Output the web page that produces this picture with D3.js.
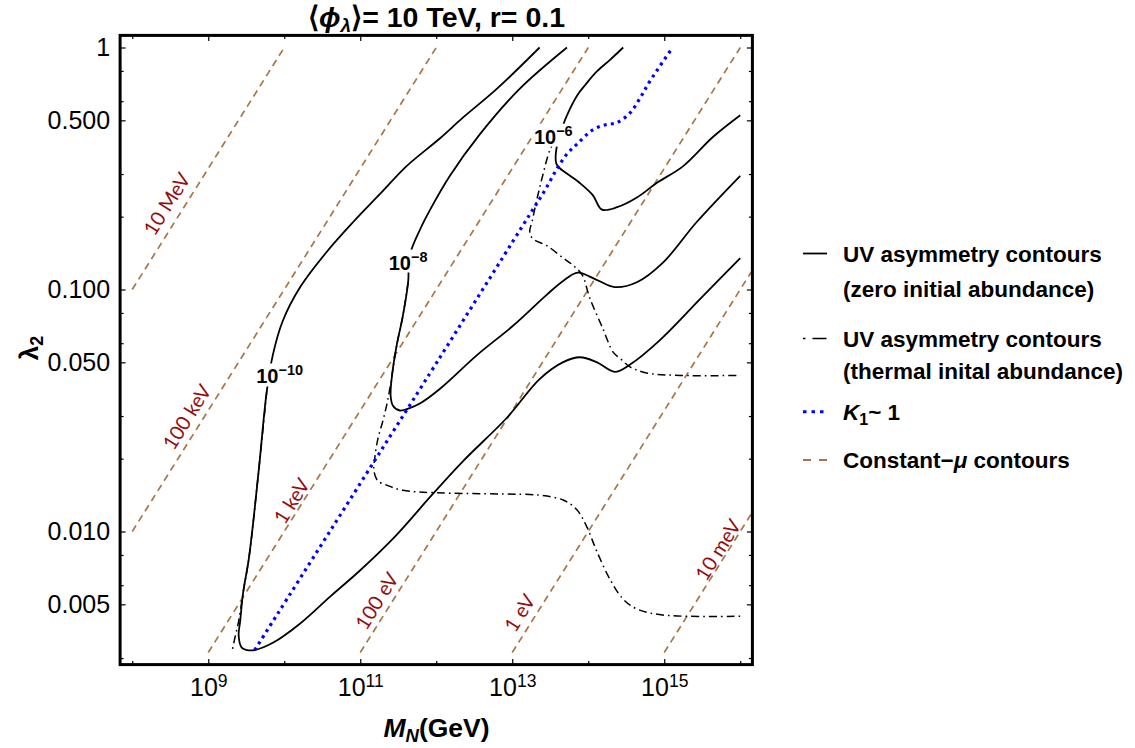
<!DOCTYPE html>
<html><head><meta charset="utf-8">
<script src="https://cdn.jsdelivr.net/npm/d3@7"></script>
<style>
body{margin:0;background:#fff;}
svg{display:block;font-family:"Liberation Sans",Arial,sans-serif;}
</style></head><body>
<svg id="chart" width="1135" height="748"></svg>
<script>
// ---------- data (log10 M_N [GeV], log10 lambda_2) ----------
const xMajorTicks = [1e9, 1e11, 1e13, 1e15];
const xMajorExp = ["9", "11", "13", "15"];
const xMinorTicks = [1e8, 1e10, 1e12, 1e14, 1e16];
const yMajorTicks = [1, 0.5, 0.1, 0.05, 0.01, 0.005];
const yMajorLabels = ["1", "0.500", "0.100", "0.050", "0.010", "0.005"];
const yMinorTicks = [0.8, 0.6, 0.3, 0.2, 0.08, 0.06, 0.03, 0.02, 0.008, 0.006, 0.003];

// UV asymmetry contours, zero initial abundance (solid)
const zero1e10 = [[13.36,0.00],[12.80,-0.17],[12.35,-0.29],[12.05,-0.375],[11.61,-0.49],[11.26,-0.605],[10.91,-0.72],[10.56,-0.844],[10.21,-0.99],[9.98,-1.13],[9.85,-1.27],[9.77,-1.42],[9.66,-1.76],[9.535,-2.11],[9.46,-2.25],[9.42,-2.37],[9.40,-2.43],[9.44,-2.48],[9.51,-2.49],[9.61,-2.49],[9.85,-2.46],[10.21,-2.38],[10.60,-2.27],[11.00,-2.16],[11.46,-2.02],[11.94,-1.85],[12.35,-1.71],[12.93,-1.53],[13.36,-1.37],[13.67,-1.30],[13.89,-1.28],[14.11,-1.30],[14.35,-1.34],[14.55,-1.31],[14.94,-1.21],[15.47,-1.04],[16.00,-0.87]];
const zero1e8 = [[13.72,0.00],[13.10,-0.17],[12.57,-0.36],[12.18,-0.53],[11.92,-0.67],[11.79,-0.75],[11.65,-0.86],[11.63,-0.97],[11.56,-1.11],[11.48,-1.23],[11.42,-1.35],[11.40,-1.44],[11.43,-1.48],[11.52,-1.50],[11.65,-1.49],[11.79,-1.47],[12.05,-1.41],[12.54,-1.27],[13.01,-1.15],[13.46,-1.02],[13.69,-0.96],[13.86,-0.93],[14.11,-0.96],[14.35,-0.99],[14.64,-0.97],[14.98,-0.89],[15.43,-0.72],[16.00,-0.53]];
const zero1e6 = [[14.46,0.00],[14.29,-0.05],[14.11,-0.10],[13.96,-0.155],[13.85,-0.20],[13.72,-0.28],[13.67,-0.32],[13.58,-0.42],[13.58,-0.48],[13.63,-0.50],[13.76,-0.53],[13.89,-0.56],[14.06,-0.61],[14.18,-0.67],[14.38,-0.66],[14.64,-0.62],[14.90,-0.56],[15.25,-0.49],[15.64,-0.37],[16.00,-0.28]];

// UV asymmetry contours, thermal initial abundance (dot-dashed)
const therm1e10 = [[9.77,-1.42],[9.66,-1.76],[9.535,-2.11],[9.46,-2.25],[9.40,-2.37],[9.35,-2.44],[9.31,-2.50]];
const therm1e8 = [[11.63,-0.97],[11.56,-1.11],[11.48,-1.23],[11.42,-1.35],[11.36,-1.46],[11.30,-1.54],[11.23,-1.62],[11.19,-1.70],[11.18,-1.75],[11.23,-1.79],[11.36,-1.81],[11.56,-1.83],[12.01,-1.84],[12.84,-1.845],[13.36,-1.85],[13.67,-1.87],[13.85,-1.91],[13.98,-1.98],[14.11,-2.08],[14.29,-2.20],[14.46,-2.28],[14.64,-2.32],[14.98,-2.345],[16.00,-2.35]];
const therm1e6 = [[13.67,-0.32],[13.50,-0.42],[13.40,-0.53],[13.33,-0.62],[13.26,-0.72],[13.23,-0.76],[13.27,-0.79],[13.46,-0.82],[13.67,-0.87],[13.80,-0.90],[13.92,-0.94],[14.02,-1.035],[14.19,-1.16],[14.33,-1.26],[14.42,-1.285],[14.55,-1.32],[14.77,-1.345],[15.21,-1.355],[16.00,-1.355]];

// K1 ~ 1 (blue dotted)
const k1Line = [[9.61,-2.49],[12.05,-1.28],[13.23,-0.69],[13.43,-0.59],[13.59,-0.50],[13.72,-0.44],[13.85,-0.40],[14.06,-0.34],[14.22,-0.32],[14.38,-0.31],[14.55,-0.27],[14.68,-0.21],[14.81,-0.14],[15.11,0.00]];

// constant-mu contours (brown dashed): endpoints
const muNames = ["10 MeV", "100 keV", "1 keV", "100 eV", "1 eV", "10 meV"];
const muStart = [[8,-1],[8,-2],[9,-2.5],[11,-2.5],[13,-2.5],[15,-2.5]];
const muEnd = [[10,0],[12,0],[14,0],[16,0],[16.16,-0.92],[16.16,-1.92]];
const muLabelAt = [[8.457,-0.647],[8.72,-1.527],[10.10,-1.874],[11.22,-2.287],[13.10,-2.337],[15.71,-2.076]];

// contour labels
const contourExp = ["\u221210", "\u22128", "\u22126"];
const contourLabelAt = [[9.94,-1.357],[11.63,-0.886],[13.54,-0.366]];

// ---------- drawing ----------
const svg = d3.select("#chart");
const x = d3.scaleLog().domain([Math.pow(10,7.84), Math.pow(10,16.16)]).range([120.1, 752.4]);
const y = d3.scaleLog().domain([Math.pow(10,-2.55), Math.pow(10,0.05)]).range([664.6, 35.4]);
const X = d => x(Math.pow(10, d[0]));
const Y = d => y(Math.pow(10, d[1]));
const line = d3.line().x(X).y(Y).curve(d3.curveCatmullRom.alpha(0.5));
const straight = d3.line().x(X).y(Y);

svg.append("defs").append("clipPath").attr("id","clip")
  .append("rect").attr("x",120.1).attr("y",35.4).attr("width",632.3).attr("height",629.2);
const plot = svg.append("g").attr("clip-path","url(#clip)");

// brown constant-mu lines
muStart.forEach((s,i) => {
  plot.append("path").attr("d", straight([s, muEnd[i]]))
    .attr("fill","none").attr("stroke","#a87646").attr("stroke-width",1.7)
    .attr("stroke-dasharray","7,5");
});
// brown labels
const ang = Math.atan2(Y([9,0.5]) - Y([8,0]), X([9,0.5]) - X([8,0])) * 180 / Math.PI;
muLabelAt.forEach((p,i) => {
  plot.append("text").attr("transform", `translate(${X(p)},${Y(p)}) rotate(${ang})`)
    .attr("text-anchor","middle").attr("dy","0.35em")
    .attr("font-family","Lato, 'Open Sans', sans-serif").attr("font-size","20px")
    .attr("fill","#930e0e").text(muNames[i]);
});

// thermal dot-dashed
[therm1e10, therm1e8, therm1e6].forEach(c => {
  plot.append("path").attr("d", line(c)).attr("fill","none")
    .attr("stroke","#000").attr("stroke-width",1.5).attr("stroke-dasharray","8,4,1.6,4");
});
// solid contours
[zero1e10, zero1e8, zero1e6].forEach(c => {
  plot.append("path").attr("d", line(c)).attr("fill","none")
    .attr("stroke","#000").attr("stroke-width",1.8);
});
// blue K1 ~ 1
plot.append("path").attr("d", line(k1Line)).attr("fill","none")
  .attr("stroke","#0000ff").attr("stroke-width",3.2).attr("stroke-dasharray","3,4.2");

// contour labels with white background
contourLabelAt.forEach((p,i) => {
  const g = plot.append("g");
  const t = g.append("text").attr("x", X(p)).attr("y", Y(p)).attr("dy","0.38em")
    .attr("text-anchor","middle").attr("font-weight","bold").attr("font-size","20px");
  t.append("tspan").text("10");
  t.append("tspan").attr("dy","-8").attr("font-size","14.5px").text(contourExp[i]);
  const b = t.node().getBBox();
  g.insert("rect","text").attr("x",b.x-1).attr("y",b.y+1).attr("width",b.width+2).attr("height",b.height-2).attr("fill","#fff");
});

// axes
function clean(g){ g.select(".domain").remove(); g.selectAll(".tick line").attr("stroke","#000").attr("stroke-width",1.2); }
const bottom = svg.append("g").attr("transform","translate(0,664.6)")
  .call(d3.axisBottom(x).tickValues(xMajorTicks).tickSize(-5.5).tickPadding(14).tickFormat(() => ""))
  .call(clean);
bottom.selectAll(".tick text").each(function(d,i){
  const t = d3.select(this).attr("fill","#000").attr("font-size","25px").attr("font-family","'Liberation Sans',Arial,sans-serif");
  t.append("tspan").text("10");
  t.append("tspan").attr("dy","-9.5").attr("font-size","17.5px").text(xMajorExp[i]);
});
svg.append("g").attr("transform","translate(0,664.6)")
  .call(d3.axisBottom(x).tickValues(xMinorTicks).tickSize(-3.5).tickFormat(() => "")).call(clean);
svg.append("g").attr("transform","translate(0,35.4)")
  .call(d3.axisTop(x).tickValues(xMajorTicks).tickSize(-5.5).tickFormat(() => "")).call(clean);
svg.append("g").attr("transform","translate(0,35.4)")
  .call(d3.axisTop(x).tickValues(xMinorTicks).tickSize(-3.5).tickFormat(() => "")).call(clean);

const left = svg.append("g").attr("transform","translate(120.1,0)")
  .call(d3.axisLeft(y).tickValues(yMajorTicks).tickSize(-5.5).tickPadding(10).tickFormat((d,i) => yMajorLabels[i]))
  .call(clean);
left.selectAll(".tick text").attr("fill","#000").attr("font-size","25px").attr("font-family","'Liberation Sans',Arial,sans-serif");
svg.append("g").attr("transform","translate(120.1,0)")
  .call(d3.axisLeft(y).tickValues(yMinorTicks).tickSize(-3.5).tickFormat(() => "")).call(clean);
svg.append("g").attr("transform","translate(752.4,0)")
  .call(d3.axisRight(y).tickValues(yMajorTicks).tickSize(-5.5).tickFormat(() => "")).call(clean);
svg.append("g").attr("transform","translate(752.4,0)")
  .call(d3.axisRight(y).tickValues(yMinorTicks).tickSize(-3.5).tickFormat(() => "")).call(clean);

// frame
svg.append("rect").attr("x",120.1).attr("y",35.4).attr("width",632.3).attr("height",629.2)
  .attr("fill","none").attr("stroke","#000").attr("stroke-width",3);

// title
const title = svg.append("text").attr("x",436.5).attr("y",27).attr("text-anchor","middle")
  .attr("font-weight","bold").attr("font-size","28.5px");
title.append("tspan").text("\u27E8");
title.append("tspan").attr("font-style","italic").text("\u03D5");
title.append("tspan").attr("font-style","italic").attr("font-size","19px").attr("dy","5").text("\u03BB");
title.append("tspan").attr("dy","-5").text("\u27E9= 10 TeV, r= 0.1");

// axis titles
const xl = svg.append("text").attr("x",436.5).attr("y",737).attr("text-anchor","middle")
  .attr("font-weight","bold").attr("font-size","26.5px");
xl.append("tspan").attr("font-style","italic").text("M");
xl.append("tspan").attr("font-style","italic").attr("font-size","18.5px").attr("dy","5").text("N");
xl.append("tspan").attr("dy","-5").text("(GeV)");

const yl = svg.append("text").attr("transform","translate(38,348) rotate(-90)").attr("text-anchor","middle")
  .attr("font-weight","bold").attr("font-size","26px");
yl.append("tspan").text("\u03BB");
yl.append("tspan").attr("font-size","18px").attr("dy","5").text("2");

// legend
const lg = svg.append("g").attr("font-weight","bold").attr("font-size","22.5px");
const lx0 = 803, lx1 = 827, tx = 843;
lg.append("line").attr("x1",lx0).attr("x2",lx1).attr("y1",253.5).attr("y2",253.5).attr("stroke","#000").attr("stroke-width",1.8);
lg.append("line").attr("x1",lx0).attr("x2",lx1).attr("y1",338.5).attr("y2",338.5).attr("stroke","#000").attr("stroke-width",1.6).attr("stroke-dasharray","2.5,7,14,40");
lg.append("line").attr("x1",lx0).attr("x2",lx1).attr("y1",411.7).attr("y2",411.7).attr("stroke","#0000ff").attr("stroke-width",3).attr("stroke-dasharray","3.5,5");
lg.append("line").attr("x1",lx0).attr("x2",lx1).attr("y1",460).attr("y2",460).attr("stroke","#a87646").attr("stroke-width",1.8).attr("stroke-dasharray","8,8");
lg.append("text").attr("x",tx).attr("y",261.5).text("UV asymmetry contours");
lg.append("text").attr("x",tx).attr("y",296.5).text("(zero initial abundance)");
lg.append("text").attr("x",tx).attr("y",346.5).text("UV asymmetry contours");
lg.append("text").attr("x",tx).attr("y",378.5).text("(thermal inital abundance)");
const k1t = lg.append("text").attr("x",tx).attr("y",420);
k1t.append("tspan").attr("font-style","italic").text("K");
k1t.append("tspan").attr("font-size","16px").attr("dy","5").text("1");
k1t.append("tspan").attr("dy","-5").text("~ 1");
const cmt = lg.append("text").attr("x",tx).attr("y",468);
cmt.append("tspan").text("Constant\u2212");
cmt.append("tspan").attr("font-style","italic").text("\u03BC");
cmt.append("tspan").text(" contours");
</script>
</body></html>
